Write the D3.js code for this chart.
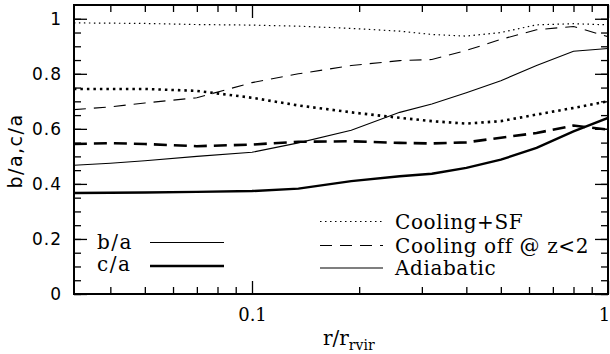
<!DOCTYPE html>
<html lang="en">
<head>
<meta charset="utf-8">
<title>Axis ratios</title>
<script src="https://d3js.org/d3.v7.min.js"></script>
<style>
  body { margin: 0; background: #fff; }
  .ytick text { font-family: "DejaVu Sans", sans-serif; font-size: 17px; letter-spacing: 1px; }
  .xtick text { font-family: "DejaVu Serif", serif; font-size: 18px; }
  .lab { font-family: "DejaVu Serif", serif; font-size: 20px; fill: #000; }
</style>
</head>
<body>
<script>
// radius in units of r_vir
var radius = [0.0316, 0.04, 0.05, 0.07, 0.1, 0.135, 0.19, 0.26, 0.32, 0.4, 0.5, 0.63, 0.8, 1.0];

// Cooling+SF
var sfBA = [0.985, 0.984, 0.983, 0.979, 0.977, 0.973, 0.965, 0.955, 0.943, 0.937, 0.950, 0.978, 0.982, 0.978];
var sfCA = [0.745, 0.745, 0.745, 0.738, 0.713, 0.685, 0.660, 0.640, 0.628, 0.619, 0.628, 0.652, 0.676, 0.700];
// Cooling off @ z<2
var offBA = [0.670, 0.680, 0.694, 0.713, 0.768, 0.800, 0.830, 0.848, 0.852, 0.885, 0.925, 0.960, 0.972, 0.935];
var offCA = [0.545, 0.548, 0.545, 0.537, 0.543, 0.553, 0.555, 0.549, 0.547, 0.551, 0.568, 0.585, 0.612, 0.597];
// Adiabatic
var adBA = [0.468, 0.475, 0.484, 0.500, 0.515, 0.549, 0.595, 0.660, 0.690, 0.731, 0.775, 0.830, 0.882, 0.892];
var adCA = [0.367, 0.368, 0.369, 0.371, 0.374, 0.383, 0.410, 0.428, 0.437, 0.458, 0.488, 0.531, 0.591, 0.640];

var yMajor = [0, 0.2, 0.4, 0.6, 0.8, 1];
var yMinor = d3.range(0, 1.05, 0.05);
var xMajor = [0.1, 1];
var xMinor = [0.04, 0.05, 0.06, 0.07, 0.08, 0.09, 0.2, 0.3, 0.4, 0.5, 0.6, 0.7, 0.8, 0.9];

var W = 610, H = 354;
var m = { left: 74, right: 608, top: 5, bottom: 294 };

var svg = d3.select("body").append("svg").attr("width", W).attr("height", H);

var x = d3.scaleLog().domain([Math.pow(10, -1.5), 1]).range([m.left, m.right]);
var y = d3.scaleLinear().domain([0, 1.05]).range([m.bottom, m.top]);

// left axis
svg.append("g").attr("class", "ytick")
    .attr("transform", "translate(" + m.left + ",0)")
    .call(d3.axisLeft(y).tickValues(yMajor).tickSize(-13).tickPadding(12).tickFormat(d3.format("~g")));
svg.append("g")
    .attr("transform", "translate(" + m.left + ",0)")
    .call(d3.axisLeft(y).tickValues(yMinor).tickSize(-7).tickFormat(""));
// right axis (mirror ticks)
svg.append("g")
    .attr("transform", "translate(" + m.right + ",0)")
    .call(d3.axisRight(y).tickValues(yMajor).tickSize(-13).tickFormat(""));
svg.append("g")
    .attr("transform", "translate(" + m.right + ",0)")
    .call(d3.axisRight(y).tickValues(yMinor).tickSize(-7).tickFormat(""));
// bottom axis
var xAx = svg.append("g").attr("class", "xtick")
    .attr("transform", "translate(0," + m.bottom + ")")
    .call(d3.axisBottom(x).tickValues(xMajor).tickSize(-13).tickPadding(14).tickFormat(d3.format("~g")));
xAx.selectAll(".tick text").filter(function(d) { return d === 1; }).attr("dx", -4); // keep "1" inside the page
svg.append("g")
    .attr("transform", "translate(0," + m.bottom + ")")
    .call(d3.axisBottom(x).tickValues(xMinor).tickSize(-7).tickFormat(""));
// top axis
svg.append("g")
    .attr("transform", "translate(0," + m.top + ")")
    .call(d3.axisTop(x).tickValues(xMajor).tickSize(-13).tickFormat(""));
svg.append("g")
    .attr("transform", "translate(0," + m.top + ")")
    .call(d3.axisTop(x).tickValues(xMinor).tickSize(-7).tickFormat(""));

svg.selectAll(".domain").remove();
svg.selectAll(".tick line").attr("stroke", "#000").attr("stroke-width", 1.3);
svg.selectAll(".tick text").attr("fill", "#000");

// frame
svg.append("rect")
    .attr("x", m.left).attr("y", m.top)
    .attr("width", m.right - m.left).attr("height", m.bottom - m.top)
    .attr("fill", "none").attr("stroke", "#000").attr("stroke-width", 2);

svg.append("clipPath").attr("id", "clip")
    .append("rect").attr("x", m.left).attr("y", m.top)
    .attr("width", m.right - m.left).attr("height", m.bottom - m.top);

var line = d3.line()
    .x(function(d) { return x(d[0]); })
    .y(function(d) { return y(d[1]); });

var series = [
    { v: sfBA,  w: 1.2, dash: "1.5,3.5" },
    { v: sfCA,  w: 2.6, dash: "2.5,4" },
    { v: offBA, w: 1.1, dash: "12,8" },
    { v: offCA, w: 2.6, dash: "13,7" },
    { v: adBA,  w: 1.1, dash: null },
    { v: adCA,  w: 2.4, dash: null }
];

var plot = svg.append("g").attr("clip-path", "url(#clip)");
series.forEach(function(s) {
    plot.append("path")
        .datum(radius.map(function(r, i) { return [r, s.v[i]]; }))
        .attr("d", line)
        .attr("fill", "none")
        .attr("stroke", "#000")
        .attr("stroke-width", s.w)
        .attr("stroke-dasharray", s.dash);
});

// legend: line thickness
svg.append("text").attr("class", "lab").attr("x", 97).attr("y", 249)
    .style("letter-spacing", "1.5px").text("b/a");
svg.append("line").attr("x1", 150).attr("x2", 224).attr("y1", 242.5).attr("y2", 242.5)
    .attr("stroke", "#000").attr("stroke-width", 1.1);
svg.append("text").attr("class", "lab").attr("x", 97).attr("y", 271)
    .style("letter-spacing", "1.5px").text("c/a");
svg.append("line").attr("x1", 150).attr("x2", 224).attr("y1", 266).attr("y2", 266)
    .attr("stroke", "#000").attr("stroke-width", 2.4);

// legend: line style
var styles = [
    { name: "Cooling+SF", dash: "1.5,3.5", yy: 221.5 },
    { name: "Cooling off @ z<2", dash: "12,8", yy: 245.5 },
    { name: "Adiabatic", dash: null, yy: 268 }
];
styles.forEach(function(s) {
    svg.append("line").attr("x1", 320).attr("x2", 383).attr("y1", s.yy).attr("y2", s.yy)
        .attr("stroke", "#000").attr("stroke-width", 1.1).attr("stroke-dasharray", s.dash);
    svg.append("text").attr("class", "lab").attr("x", 395).attr("y", s.yy + 7)
        .style("letter-spacing", "0.6px")
        .text(s.name);
});

// axis titles
svg.append("text").attr("class", "lab")
    .attr("transform", "translate(22,151) rotate(-90)")
    .attr("text-anchor", "middle")
    .style("font-family", "'DejaVu Sans', sans-serif")
    .style("font-size", "19px")
    .style("letter-spacing", "1.5px")
    .text("b/a,c/a");

var xl = svg.append("text").attr("class", "lab")
    .attr("x", 323).attr("y", 345);
xl.append("tspan").text("r/r");
xl.append("tspan").attr("dy", 5).style("font-size", "14px").text("rvir");
</script>
</body>
</html>
